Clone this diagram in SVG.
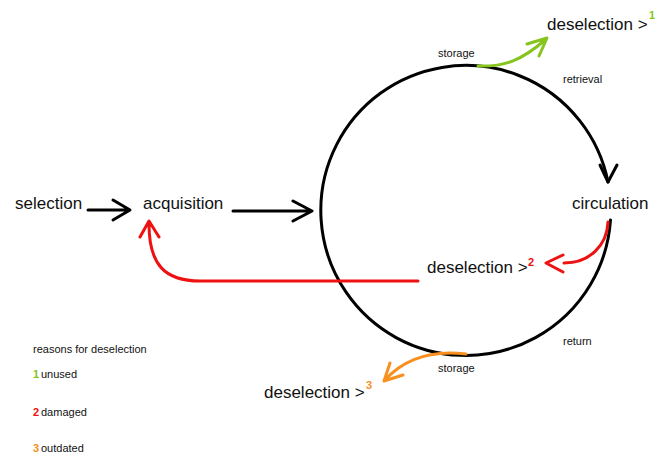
<svg xmlns="http://www.w3.org/2000/svg" width="656" height="455" viewBox="0 0 656 455">
<style>
text{font-family:"Liberation Sans",Arial,sans-serif;fill:#111}
.big{font-size:17px}
.sm{font-size:11px}
.sup{font-size:11px;font-weight:bold}
.ln{fill:none;stroke-width:3;stroke-linecap:round;stroke-linejoin:round}
.k{stroke:#000}.g{stroke:#86c41e}.r{stroke:#ee1111}.o{stroke:#f7901e}
</style>
<rect width="656" height="455" fill="#fff"/>
<g id="connectors">
<path class="ln k" d="M610.5 220 A145 145 0 1 1 608 182"/>
<path class="ln k" d="M600 165 L608 182 L617 165"/>
<path class="ln k" d="M88 210 L129 210 M113 200 L130 210 L113 220"/>
<path class="ln k" d="M233 211 L311 211 M293 201 L312 211 L293 221"/>
<path class="ln g" d="M478 66 C505 67 522 60 545 40 M527 44 L547 38 L539 56"/>
<path class="ln r" d="M608 222 C607 245 590 263 564 263 M563 255 L546 263 L563 272"/>
<path class="ln r" d="M418 281 L200 281 C165 281 149 265 149 224 M140 237 L149 221 L159 237"/>
<path class="ln o" d="M466 354 C432 350 405 358 385 380 M390 363 L384 381 L403 375"/>
</g>
<g id="selection"><text class="big" x="15" y="209">selection</text></g>
<g id="acquisition"><text class="big" x="143" y="209">acquisition</text></g>
<g id="circulation"><text class="big" x="572" y="209">circulation</text></g>
<g id="deselection1"><text class="big" x="547" y="30">deselection &gt;</text><text class="sup" x="649" y="19" style="fill:#86c41e">1</text></g>
<g id="deselection2"><text class="big" x="427" y="273">deselection &gt;</text><text class="sup" x="528" y="266" style="fill:#ee1111">2</text></g>
<g id="deselection3"><text class="big" x="264" y="398">deselection &gt;</text><text class="sup" x="366" y="389" style="fill:#f7901e">3</text></g>
<g id="labels">
<text class="sm" x="438" y="57">storage</text>
<text class="sm" x="563" y="83">retrieval</text>
<text class="sm" x="563" y="345">return</text>
<text class="sm" x="438" y="372">storage</text>
</g>
<g id="legend">
<text class="sm" x="33" y="353">reasons for deselection</text>
<text class="sup" x="33" y="378" style="fill:#86c41e">1</text><text class="sm" x="41" y="378">unused</text>
<text class="sup" x="33" y="416" style="fill:#ee1111">2</text><text class="sm" x="41" y="416">damaged</text>
<text class="sup" x="33" y="452" style="fill:#f7901e">3</text><text class="sm" x="41" y="452">outdated</text>
</g>
</svg>
